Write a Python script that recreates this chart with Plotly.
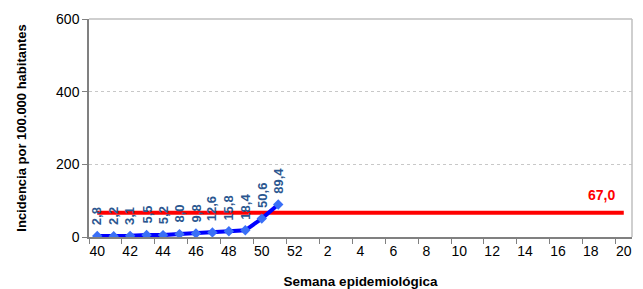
import plotly.graph_objects as go

weeks = [str(w) for w in range(40, 53)] + [str(w) for w in range(1, 21)]
incidence_weeks = ["40", "41", "42", "43", "44", "45", "46", "47", "48", "49", "50", "51"]
incidence = [2.8, 2.2, 3.1, 5.5, 5.2, 8.0, 9.8, 12.6, 15.8, 18.4, 50.6, 89.4]
threshold = [67.0] * len(weeks)
threshold_label = "67,0"

fig = go.Figure()
fig.add_trace(go.Scatter(
    x=weeks, y=threshold, mode="lines",
    line=dict(color="#FF0000", width=4), hoverinfo="skip", showlegend=False))
fig.add_trace(go.Scatter(
    x=incidence_weeks, y=incidence, mode="lines+markers",
    line=dict(color="#0000FF", width=4),
    marker=dict(symbol="diamond", size=8, color="#3A6FF7"),
    showlegend=False))

for w, v in zip(incidence_weeks, incidence):
    fig.add_annotation(
        x=weeks.index(w), y=v, text=f"{v:.1f}".replace(".", ","), textangle=-90,
        showarrow=False, xanchor="center", yanchor="bottom", yshift=9,
        font=dict(family="Liberation Sans, Arial", size=13, color="#2B5790", weight="bold"))

fig.add_annotation(
    x=len(weeks) - 1, y=threshold[-1], text=threshold_label, showarrow=False,
    xanchor="right", yanchor="bottom", xshift=-7, yshift=8,
    font=dict(family="Liberation Sans, Arial", size=14, color="#FF0000", weight="bold"))

# top and right frame lines
fig.add_shape(type="line", xref="paper", yref="paper", x0=0, x1=1, y0=1, y1=1,
              line=dict(color="#BFBFBF", width=1.5))
fig.add_shape(type="line", xref="paper", yref="paper", x0=1, x1=1, y0=0, y1=1,
              line=dict(color="#BFBFBF", width=1.5))

fig.update_layout(
    width=643, height=289,
    margin=dict(l=89, r=11, t=19, b=52),
    paper_bgcolor="white", plot_bgcolor="white",
    font=dict(family="Liberation Sans, Arial", size=14, color="#000000"),
    xaxis=dict(
        type="category", categoryorder="array", categoryarray=weeks,
        range=[-0.5, len(weeks) - 0.5], automargin=False,
        tickmode="linear", tick0=0, dtick=2, tickangle=0,
        tickson="boundaries", ticks="outside", ticklen=5, tickcolor="#808080",
        showline=True, linecolor="#808080", linewidth=1.5,
        showgrid=False, tickfont=dict(size=14),
        title=dict(text="Semana epidemiológica", font=dict(size=13.5, weight="bold"), standoff=20),
    ),
    yaxis=dict(
        range=[0, 600], tickvals=[0, 200, 400, 600], automargin=False,
        ticks="outside", ticklen=5, tickcolor="#808080",
        showline=True, linecolor="#808080", linewidth=1.5,
        showgrid=True, gridcolor="#C8C8C8", griddash="dot", gridwidth=1,
        zeroline=False, tickfont=dict(size=14),
        title=dict(text="Incidencia por 100.000 habitantes", font=dict(size=13, weight="bold"), standoff=27),
    ),
)

fig.write_html("out.html", config={"displayModeBar": False},
               post_script="document.body.style.margin='0';")
